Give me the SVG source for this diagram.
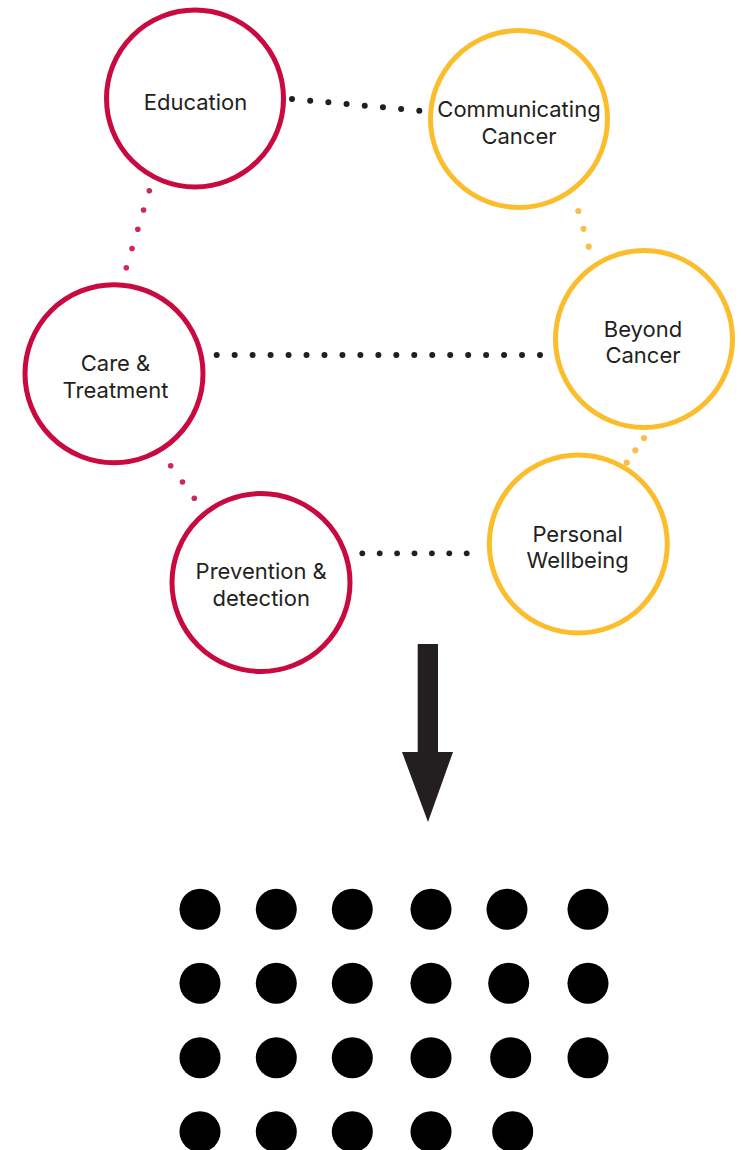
<svg xmlns="http://www.w3.org/2000/svg" width="742" height="1150" viewBox="0 0 742 1150">
<style>
.red{fill:none;stroke:#C90A41;stroke-width:5}
.yel{fill:none;stroke:#FBBD2C;stroke-width:5}
.lbl{font-family:Inter,"Noto Sans","Liberation Sans",sans-serif;font-size:22px;fill:#231F20;text-anchor:middle}
.dk circle{fill:#231F20}
.dr circle{fill:#D0275A}
.dy circle{fill:#F9BF4E}
.gd{fill:#000}
</style>
<rect width="742" height="1150" fill="#fff"/>
<g id="connectors">
<g id="edu-comm" class="dk">
<circle cx="292" cy="99" r="3"/><circle cx="310.19" cy="100.67" r="3"/><circle cx="328.37" cy="102.34" r="3"/><circle cx="346.56" cy="104.01" r="3"/><circle cx="364.74" cy="105.69" r="3"/><circle cx="382.93" cy="107.36" r="3"/><circle cx="401.11" cy="109.03" r="3"/><circle cx="419.3" cy="110.7" r="3"/>
</g>
<g id="care-beyond" class="dk">
<circle cx="216.7" cy="355" r="3"/><circle cx="234.66" cy="355" r="3"/><circle cx="252.62" cy="355" r="3"/><circle cx="270.59" cy="355" r="3"/><circle cx="288.55" cy="355" r="3"/><circle cx="306.51" cy="355" r="3"/><circle cx="324.47" cy="355" r="3"/><circle cx="342.43" cy="355" r="3"/><circle cx="360.39" cy="355" r="3"/><circle cx="378.35" cy="355" r="3"/><circle cx="396.32" cy="355" r="3"/><circle cx="414.28" cy="355" r="3"/><circle cx="432.24" cy="355" r="3"/><circle cx="450.2" cy="355" r="3"/><circle cx="468.16" cy="355" r="3"/><circle cx="486.12" cy="355" r="3"/><circle cx="504.08" cy="355" r="3"/><circle cx="522.04" cy="355" r="3"/><circle cx="540" cy="355" r="3"/>
</g>
<g id="prev-personal" class="dk">
<circle cx="362.3" cy="553.3" r="2.9"/><circle cx="379.7" cy="553.3" r="2.9"/><circle cx="397.1" cy="553.3" r="2.9"/><circle cx="414.5" cy="553.3" r="2.9"/><circle cx="431.9" cy="553.3" r="2.9"/><circle cx="449.3" cy="553.3" r="2.9"/><circle cx="466.7" cy="553.3" r="2.9"/>
</g>
<g id="edu-care" class="dr">
<circle cx="149.3" cy="190.7" r="2.8"/><circle cx="143.55" cy="209.95" r="2.8"/><circle cx="137.8" cy="229.2" r="2.8"/><circle cx="132.05" cy="248.45" r="2.8"/><circle cx="126.3" cy="267.7" r="2.8"/>
</g>
<g id="care-prev" class="dr">
<circle cx="170.7" cy="465.7" r="2.8"/><circle cx="182.5" cy="482" r="2.8"/><circle cx="194.3" cy="498.3" r="2.8"/>
</g>
<g id="comm-beyond" class="dy">
<circle cx="578.3" cy="211" r="3.1"/><circle cx="583.5" cy="228.85" r="3.1"/><circle cx="588.7" cy="246.7" r="3.1"/>
</g>
<g id="beyond-personal" class="dy">
<circle cx="644" cy="438" r="3.1"/><circle cx="635.35" cy="450.35" r="3.1"/><circle cx="626.7" cy="462.7" r="3.1"/>
</g>
</g>
<g id="education">
<circle class="red" cx="195" cy="98.5" r="88.5"/>
<text class="lbl" x="195.5" y="110">Education</text>
</g>
<g id="communicating-cancer">
<circle class="yel" cx="519" cy="119" r="88.5"/>
<text class="lbl" x="519" y="117.3">Communicating</text>
<text class="lbl" x="519" y="144">Cancer</text>
</g>
<g id="beyond-cancer">
<circle class="yel" cx="644" cy="339" r="88.5"/>
<text class="lbl" x="643" y="336.7">Beyond</text>
<text class="lbl" x="643" y="362.7">Cancer</text>
</g>
<g id="care-treatment">
<circle class="red" cx="114" cy="373.7" r="89"/>
<text class="lbl" x="115.5" y="370.7">Care &amp;</text>
<text class="lbl" x="115.5" y="397.7">Treatment</text>
</g>
<g id="personal-wellbeing">
<circle class="yel" cx="578.3" cy="544" r="89"/>
<text class="lbl" x="577.7" y="541.7">Personal</text>
<text class="lbl" x="577.7" y="567.7">Wellbeing</text>
</g>
<g id="prevention-detection">
<circle class="red" cx="261" cy="582.5" r="89"/>
<text class="lbl" x="261.2" y="579.3">Prevention &amp;</text>
<text class="lbl" x="261.2" y="605.7">detection</text>
</g>
<g id="arrow">
<polygon fill="#231F20" points="417.7,644 438,644 438,752 453,752 428,822 402,752 417.7,752"/>
</g>
<g id="dot-grid" class="gd">
<circle cx="200" cy="909.3" r="20.5"/><circle cx="276.3" cy="909.3" r="20.5"/><circle cx="352.3" cy="909.3" r="20.5"/><circle cx="431" cy="909.3" r="20.5"/><circle cx="507" cy="909.3" r="20.5"/><circle cx="588" cy="909.3" r="20.5"/>
<circle cx="200" cy="983.3" r="20.5"/><circle cx="276.3" cy="983.3" r="20.5"/><circle cx="352.3" cy="983.3" r="20.5"/><circle cx="431" cy="983.3" r="20.5"/><circle cx="508.7" cy="983.3" r="20.5"/><circle cx="588" cy="983.3" r="20.5"/>
<circle cx="200" cy="1057.7" r="20.5"/><circle cx="276.3" cy="1057.7" r="20.5"/><circle cx="352.3" cy="1057.7" r="20.5"/><circle cx="431" cy="1057.7" r="20.5"/><circle cx="510.7" cy="1057.7" r="20.5"/><circle cx="588" cy="1057.7" r="20.5"/>
<circle cx="200" cy="1131.7" r="20.5"/><circle cx="276.3" cy="1131.7" r="20.5"/><circle cx="352.3" cy="1131.7" r="20.5"/><circle cx="431" cy="1131.7" r="20.5"/><circle cx="512.7" cy="1131.7" r="20.5"/>
</g>
</svg>
